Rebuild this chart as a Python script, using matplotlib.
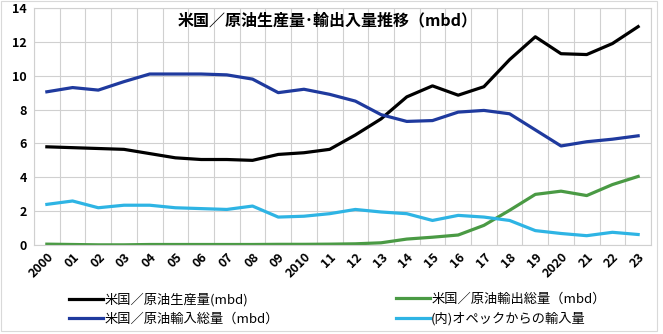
import matplotlib
matplotlib.use("Agg")
import matplotlib.pyplot as plt
from matplotlib.patches import Rectangle

plt.rcParams['font.family'] = ['Noto Sans CJK JP', 'DejaVu Sans']

years = ["2000", "01", "02", "03", "04", "05", "06", "07", "08", "09",
         "2010", "11", "12", "13", "14", "15", "16", "17", "18", "19",
         "2020", "21", "22", "23"]

production = [5.8, 5.75, 5.7, 5.65, 5.4, 5.15, 5.05, 5.05, 5.0, 5.35,
              5.45, 5.65, 6.5, 7.45, 8.75, 9.4, 8.85, 9.35, 10.95, 12.3,
              11.3, 11.25, 11.9, 12.9]
imports = [9.05, 9.3, 9.15, 9.65, 10.1, 10.1, 10.1, 10.05, 9.8, 9.0,
           9.2, 8.9, 8.5, 7.7, 7.3, 7.35, 7.85, 7.95, 7.75, 6.8,
           5.85, 6.1, 6.25, 6.45]
exports = [0.05, 0.03, 0.01, 0.01, 0.03, 0.03, 0.03, 0.03, 0.03, 0.04,
           0.04, 0.05, 0.07, 0.13, 0.35, 0.46, 0.59, 1.16, 2.05, 2.99,
           3.18, 2.92, 3.57, 4.05]
opec = [2.4, 2.6, 2.2, 2.35, 2.35, 2.2, 2.15, 2.1, 2.3, 1.65,
        1.7, 1.85, 2.1, 1.95, 1.85, 1.45, 1.75, 1.65, 1.45, 0.85,
        0.68, 0.55, 0.75, 0.62]

labels = ["米国／原油生産量(mbd)", "米国／原油輸入総量（mbd）",
          "米国／原油輸出総量（mbd）", "(内)オペックからの輸入量"]
colors = ["#000000", "#1f3a9e", "#4a9a44", "#2eb4e4"]
title = "米国／原油生産量･輸出入量推移（mbd）"

fig = plt.figure(figsize=(6.63, 3.34), dpi=100)
ax = fig.add_axes([34/663, 1-245/334, (651-34)/663, (245-8)/334])

x = list(range(len(years)))
series = [production, imports, exports, opec]
lines = []
for s, c in zip(series, colors):
    l, = ax.plot(x, s, color=c, lw=2.3, solid_joinstyle='round')
    lines.append(l)

ax.set_xlim(-0.5, len(years) - 0.5)
ax.set_ylim(0, 14)
ax.set_yticks(range(0, 15, 2))
ax.set_xticks(x)
ax.set_xticklabels(years, rotation=45, ha='right', va='top',
                   rotation_mode='anchor', fontsize=9, fontweight='bold')
for t in ax.get_yticklabels():
    t.set_fontweight('bold')
    t.set_fontsize(9)
ax.tick_params(axis='both', length=0, pad=5)
ax.tick_params(axis='x', pad=4)

ax.set_xticks([i + 0.5 for i in range(-1, len(years))], minor=True)
ax.grid(False)
ax.grid(True, which='minor', axis='x', color='#d0d0d0', lw=0.8)
ax.grid(True, which='major', axis='y', color='#d0d0d0', lw=0.8)
ax.tick_params(which='minor', length=0)
for sp in ax.spines.values():
    sp.set_color('#d0d0d0')
    sp.set_linewidth(0.8)

fig.text(328/663, 1-20/334, title, ha='center', va='center',
         fontsize=11.5, fontweight='bold')

leg1 = fig.legend([lines[0], lines[1]], [labels[0], labels[1]],
                  loc='center left', bbox_to_anchor=(62/663, 1-309/334),
                  frameon=False, fontsize=9.5, handlelength=2.6,
                  handletextpad=0.1, labelspacing=0.45, borderpad=0)
leg2 = fig.legend([lines[2], lines[3]], [labels[2], labels[3]],
                  loc='center left', bbox_to_anchor=(389/663, 1-309/334),
                  frameon=False, fontsize=9.5, handlelength=2.6,
                  handletextpad=0.1, labelspacing=0.45, borderpad=0)

fig.patches.append(Rectangle((1/663, 3/334), 656/663, 330/334,
                             transform=fig.transFigure, fill=False,
                             edgecolor='#d9d9d9', lw=0.8))

fig.savefig("out.png", dpi=100)
